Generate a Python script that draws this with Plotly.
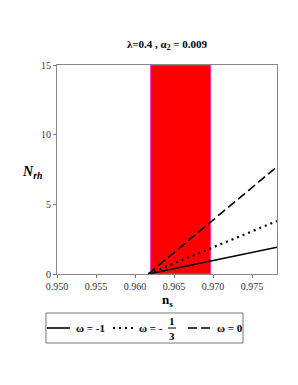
import plotly.graph_objects as go

# data
ns_vals = [0.9617, 0.9700, 0.9782]
n_rh_w_m1 = [0.0, 0.97, 1.92]
n_rh_w_m13 = [0.0, 1.92, 3.80]
n_rh_w_0 = [0.0, 3.88, 7.70]
band = [0.9620, 0.9697]
x_ticks = [0.950, 0.955, 0.960, 0.965, 0.970, 0.975]
y_ticks = [0, 5, 10, 15]
series_names = ["ω = -1", "ω = - 1/3", "ω = 0"]

FONT = "Liberation Serif"
OFF = 8  # page offset of the plot div
# plot area in page pixels
PL, PR, PT, PB = 57, 277, 65, 274


def px(x):
    return (x - PL) / (PR - PL)


def py(y):
    return (PB - y) / (PB - PT)


DOT = "2px,4px"
DASH = "9px,4px"

fig = go.Figure()
fig.add_vrect(x0=band[0], x1=band[1], fillcolor="#ff0000", opacity=1,
              line=dict(color="#ff33cc", width=1), layer="below")

for ys, nm, dash in [(n_rh_w_m1, series_names[0], "solid"),
                     (n_rh_w_m13, series_names[1], DOT),
                     (n_rh_w_0, series_names[2], DASH)]:
    fig.add_trace(go.Scatter(x=ns_vals, y=ys, mode="lines", name=nm,
                             showlegend=False,
                             line=dict(color="black", width=2.2 if dash == DOT else 1.6,
                                       dash=dash)))

fig.update_layout(
    width=298, height=385,
    margin=dict(l=PL - OFF, r=298 - PR + OFF, t=PT - OFF, b=385 - PB + OFF),
    paper_bgcolor="white", plot_bgcolor="rgba(0,0,0,0)",
    font=dict(family=FONT, size=10, color="#333"),
    title=dict(text="<b>λ=0.4 , α<sub>2</sub> = 0.009</b>", x=0.5, xref="paper",
               y=1 - (44 - OFF) / 385, yanchor="middle",
               font=dict(family=FONT, size=11, color="black")),
    showlegend=False,
)
fig.update_xaxes(range=[0.950, 0.9782], tickvals=x_ticks, tickformat=".3f",
                 ticks="outside", ticklen=3, tickcolor="#777", showgrid=False,
                 zeroline=False, showline=True, linecolor="#888", mirror=True,
                 linewidth=1, tickfont=dict(family=FONT, size=10, color="#333"))
fig.update_yaxes(range=[0, 15], tickvals=y_ticks, ticks="outside", ticklen=3,
                 tickcolor="#777", showgrid=False, zeroline=False, showline=True,
                 linecolor="#888", mirror=True, linewidth=1,
                 tickfont=dict(family=FONT, size=10, color="#333"))

# axis titles
fig.add_annotation(text="<b><i>N<sub>rh</sub></i></b>", xref="paper", yref="paper",
                   x=px(44), y=py(172), xanchor="right", yanchor="middle", showarrow=False,
                   font=dict(family=FONT, size=14, color="black"))
fig.add_annotation(text="<b>n<sub>s</sub></b>", xref="paper", yref="paper",
                   x=0.5, y=py(290), yanchor="top", showarrow=False,
                   font=dict(family=FONT, size=13, color="black"))

# legend (box, samples, labels)
LY = 328
fig.add_shape(type="rect", xref="paper", yref="paper",
              x0=px(46), x1=px(243), y0=py(313), y1=py(343),
              line=dict(color="#777", width=1), fillcolor="white")
for (x0, x1), dash, w in [((47, 70), "solid", 1.6), ((113, 135), DOT, 2.2),
                          ((188, 210), DASH, 1.6)]:
    fig.add_shape(type="line", xref="paper", yref="paper",
                  x0=px(x0), x1=px(x1), y0=py(LY), y1=py(LY),
                  line=dict(color="black", width=w, dash=dash))
lab_font = dict(family=FONT, size=11, color="black")
fig.add_annotation(text="<b>ω = -1</b>", xref="paper", yref="paper", x=px(74), y=py(LY),
                   xanchor="left", yanchor="middle", showarrow=False, font=lab_font)
fig.add_annotation(text="<b>ω = -</b>", xref="paper", yref="paper", x=px(137), y=py(LY),
                   xanchor="left", yanchor="middle", showarrow=False, font=lab_font)
fig.add_annotation(text="<b>1</b>", xref="paper", yref="paper", x=px(172), y=py(321),
                   xanchor="center", yanchor="middle", showarrow=False, font=lab_font)
fig.add_annotation(text="<b>3</b>", xref="paper", yref="paper", x=px(172), y=py(335.5),
                   xanchor="center", yanchor="middle", showarrow=False, font=lab_font)
fig.add_shape(type="line", xref="paper", yref="paper",
              x0=px(168), x1=px(176), y0=py(328), y1=py(328),
              line=dict(color="black", width=1))
fig.add_annotation(text="<b>ω = 0</b>", xref="paper", yref="paper", x=px(215), y=py(LY),
                   xanchor="left", yanchor="middle", showarrow=False, font=lab_font)

fig.write_html("out.html")
